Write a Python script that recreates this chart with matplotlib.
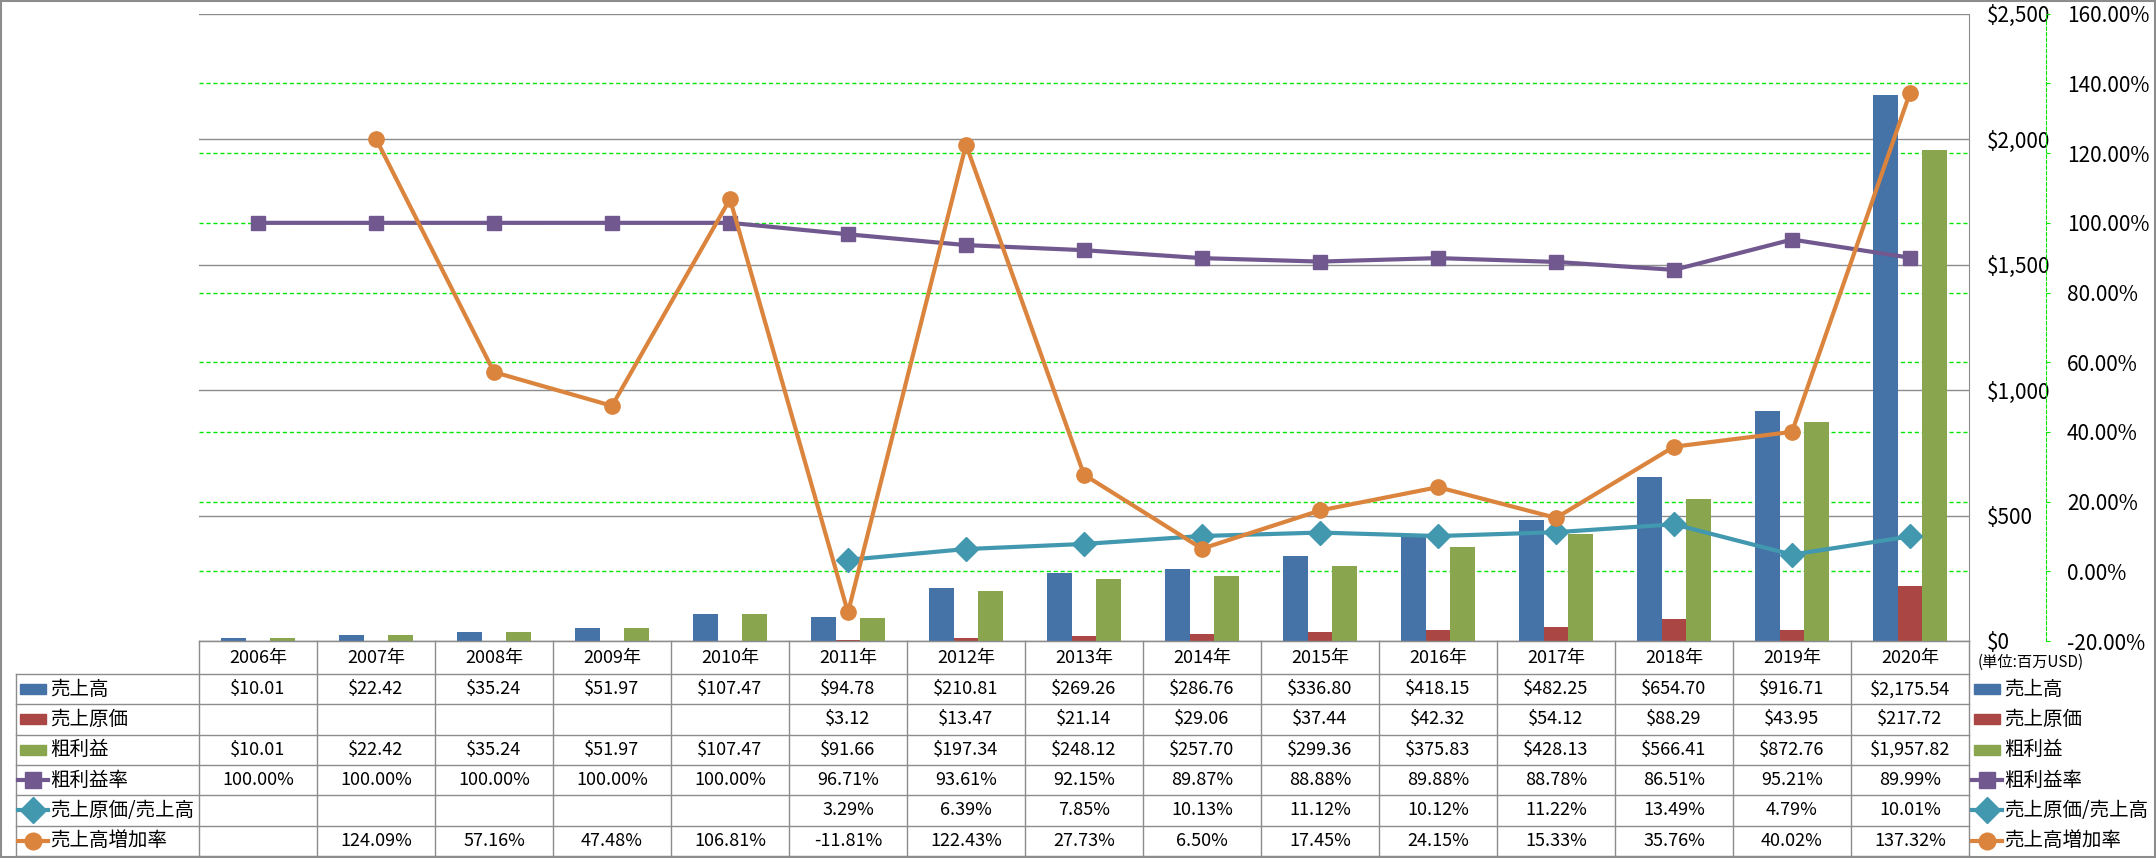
import numpy as np
import matplotlib
matplotlib.use('Agg')
import matplotlib.pyplot as plt
import matplotlib.transforms as mtransforms

plt.rcParams['font.family'] = ['Noto Sans CJK JP', 'DejaVu Sans']

years = ['2006年', '2007年', '2008年', '2009年', '2010年', '2011年', '2012年', '2013年',
         '2014年', '2015年', '2016年', '2017年', '2018年', '2019年', '2020年']
revenue = [10.01, 22.42, 35.24, 51.97, 107.47, 94.78, 210.81, 269.26, 286.76, 336.80,
           418.15, 482.25, 654.70, 916.71, 2175.54]
cogs = [None, None, None, None, None, 3.12, 13.47, 21.14, 29.06, 37.44,
        42.32, 54.12, 88.29, 43.95, 217.72]
gross = [10.01, 22.42, 35.24, 51.97, 107.47, 91.66, 197.34, 248.12, 257.70, 299.36,
         375.83, 428.13, 566.41, 872.76, 1957.82]
margin = [100.00, 100.00, 100.00, 100.00, 100.00, 96.71, 93.61, 92.15, 89.87, 88.88,
          89.88, 88.78, 86.51, 95.21, 89.99]
cogs_ratio = [None, None, None, None, None, 3.29, 6.39, 7.85, 10.13, 11.12,
              10.12, 11.22, 13.49, 4.79, 10.01]
growth = [None, 124.09, 57.16, 47.48, 106.81, -11.81, 122.43, 27.73, 6.50, 17.45,
          24.15, 15.33, 35.76, 40.02, 137.32]

names = ['売上高', '売上原価', '粗利益', '粗利益率', '売上原価/売上高', '売上高増加率']
colors = ['#4572A7', '#AA4643', '#89A54E', '#71588F', '#4198AF', '#DB843D']
markers = [None, None, None, 's', 'D', 'o']
msizes = [0, 0, 0, 10, 12, 11]

W, H = 2156, 858
X0, X1, Y0, Y1 = 199, 1969, 641, 13.75
GRAY = '#8C8C8C'
GREEN = '#00E600'

fig = plt.figure(figsize=(W / 100, H / 100), dpi=100)
ax = fig.add_axes([X0 / W, 1 - Y0 / H, (X1 - X0) / W, (Y0 - Y1) / H])
ax2 = ax.twinx()

def arr(v, scale=1.0):
    return np.array([np.nan if a is None else a * scale for a in v], dtype=float)

x = np.arange(len(years))
bw = 0.21
ax.bar(x - bw, arr(revenue), bw, color=colors[0], zorder=3)
ax.bar(x, arr(cogs), bw, color=colors[1], zorder=3)
ax.bar(x + bw, arr(gross), bw, color=colors[2], zorder=3)

ax.set_xlim(-0.5, len(years) - 0.5)
ax.set_ylim(0, 2500)
ax.set_xticks([])
ax.yaxis.tick_right()
ax.set_yticks(np.arange(0, 2501, 500))
ax.set_yticklabels(['$0', '$500', '$1,000', '$1,500', '$2,000', '$2,500'])
ax.tick_params(axis='y', length=0, pad=13, labelsize=15)
ax.yaxis.grid(True, color=GRAY, lw=1)
ax.set_axisbelow(True)
for s in ['left', 'top']:
    ax.spines[s].set_visible(False)
ax.spines['right'].set_color(GRAY)
ax.spines['bottom'].set_color(GRAY)

# secondary (percent) axis
ax2.set_ylim(-0.2, 1.6)
pct_ticks = np.round(np.arange(-0.2, 1.61, 0.2), 2)
ax2.set_yticks(pct_ticks)
ax2.set_yticklabels([f'{v * 100:.2f}%' for v in pct_ticks])
ax2.get_yticklabels()[0].set_color('red')
ax2.tick_params(axis='y', length=3, color=GREEN, pad=12, labelsize=15)
for s in ['left', 'top', 'bottom']:
    ax2.spines[s].set_visible(False)
ax2.spines['right'].set_position(('axes', 1.0435))
ax2.spines['right'].set_color(GREEN)
ax2.spines['right'].set_linestyle((0, (3, 2)))

# green dashed grid for percent axis, drawn behind the bars
tr = mtransforms.blended_transform_factory(ax.transAxes, ax2.transData)
ax.hlines(pct_ticks[1:-1], 0, 1, transform=tr, colors=GREEN, lw=1,
          linestyles=(0, (3, 2)), zorder=1)

line_data = [arr(margin, 0.01), arr(cogs_ratio, 0.01), arr(growth, 0.01)]
for k, d in enumerate(line_data):
    i = k + 3
    ax2.plot(x, d, color=colors[i], lw=3, marker=markers[i], ms=msizes[i],
             zorder=4)

# data table
axT = fig.add_axes([0, 0, 1, 1], zorder=5)
axT.set_xlim(0, W)
axT.set_ylim(H, 0)
axT.axis('off')
axT.patch.set_visible(False)

cw = (X1 - X0) / len(years)
hdr_top, hdr_bot = Y0, 674
rh = 30.3
row_tops = [hdr_bot + r * rh for r in range(len(names) + 1)]
TL = 16

# horizontal lines
axT.plot([X0, X1], [hdr_top, hdr_top], color=GRAY, lw=1)
for yy in row_tops:
    axT.plot([TL, X1], [yy, yy], color=GRAY, lw=1)
# vertical lines
for c in range(len(years) + 1):
    xx = X0 + c * cw
    axT.plot([xx, xx], [hdr_top, row_tops[-1]], color=GRAY, lw=1)
axT.plot([TL, TL], [hdr_bot, row_tops[-1]], color=GRAY, lw=1)

for c, yr in enumerate(years):
    axT.text(X0 + (c + 0.5) * cw, (hdr_top + hdr_bot) / 2, yr, ha='center',
             va='center', fontsize=13)

def money(v):
    return '' if v is None else f'${v:,.2f}'

def pct(v):
    return '' if v is None else f'{v:.2f}%'

rows = [[money(v) for v in revenue], [money(v) for v in cogs],
        [money(v) for v in gross], [pct(v) for v in margin],
        [pct(v) for v in cogs_ratio], [pct(v) for v in growth]]

def key(xk, yc, i):
    if markers[i] is None:
        axT.add_patch(plt.Rectangle((xk, yc - 5), 26, 10, color=colors[i]))
    else:
        axT.plot([xk - 2, xk + 28], [yc, yc], color=colors[i], lw=3)
        axT.plot([xk + 13], [yc], marker=markers[i], ms=msizes[i] + 1,
                 color=colors[i])

for r, name in enumerate(names):
    yc = (row_tops[r] + row_tops[r + 1]) / 2
    key(20, yc, r)
    axT.text(50, yc, name, ha='left', va='center', fontsize=14)
    key(1974, yc, r)
    axT.text(2004, yc, name, ha='left', va='center', fontsize=14)
    for c, s in enumerate(rows[r]):
        axT.text(X0 + (c + 0.5) * cw, yc, s, ha='center', va='center', fontsize=13)

axT.text(1978, 662, '(単位:百万USD)', ha='left', va='center', fontsize=11)

# chart frame
axT.add_patch(plt.Rectangle((1, 1), W - 2.5, H - 2.5, fill=False, ec=GRAY, lw=1.5))

fig.savefig('out.png', dpi=100)
